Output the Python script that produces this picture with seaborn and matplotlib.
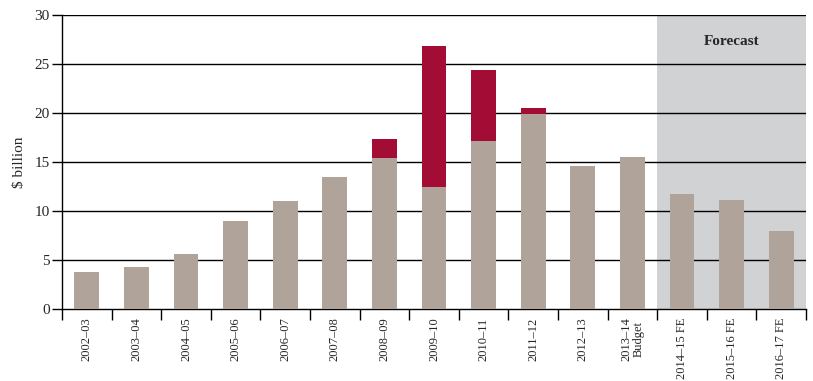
import pandas as pd
import matplotlib
matplotlib.use("Agg")
import matplotlib.pyplot as plt
import seaborn as sns

sns.set_theme(style="white")
plt.rcParams["font.family"] = ["Liberation Serif", "DejaVu Serif"]

YEARS = ["2002–03", "2003–04", "2004–05", "2005–06", "2006–07", "2007–08",
         "2008–09", "2009–10", "2010–11", "2011–12", "2012–13",
         "2013–14\nBudget", "2014–15 FE", "2015–16 FE", "2016–17 FE"]
BASE = [3.8, 4.3, 5.6, 9.0, 11.0, 13.5, 15.4, 12.4, 17.1, 19.9, 14.6, 15.5, 11.7, 11.1, 8.0]
EXTRA = [0, 0, 0, 0, 0, 0, 1.95, 14.4, 7.3, 0.6, 0, 0, 0, 0, 0]
FORECAST_START = 12

GREY = "#afa39a"
RED = "#a20c35"
SHADE = "#d1d2d4"

df = pd.DataFrame({"year": YEARS, "base": BASE, "extra": EXTRA})
df["total"] = df["base"] + df["extra"]

fig, ax = plt.subplots(figsize=(8.13, 3.81), dpi=100)
fig.subplots_adjust(left=0.0763, right=0.9914, bottom=0.189, top=0.9606)

ax.axvspan(FORECAST_START - 0.5, len(YEARS) - 0.5, color=SHADE, zorder=0, lw=0)
for v in range(5, 31, 5):
    ax.axhline(v, color="black", lw=1, zorder=1)

bar_kw = dict(width=0.5, saturation=1, edgecolor="none", linewidth=0, ax=ax)
sns.barplot(data=df, x="year", y="total", color=RED, zorder=2, **bar_kw)
sns.barplot(data=df, x="year", y="base", color=GREY, zorder=3, **bar_kw)

ax.set_xlim(-0.5, len(YEARS) - 0.5)
ax.set_ylim(0, 30)
ax.set_yticks(range(0, 31, 5))
ax.set_xlabel("")
ax.set_ylabel("$ billion", fontsize=11, labelpad=6)
ax.tick_params(axis="y", direction="out", length=7, width=1, color="black", labelsize=11, left=True, pad=2)
ax.set_xticks(range(len(YEARS)))
ax.set_xticklabels(YEARS, rotation=90, fontsize=9, va="top", ha="center", linespacing=0.95)
ax.tick_params(axis="x", which="major", length=0, pad=6)
ax.set_xticks([i - 0.5 for i in range(len(YEARS) + 1)], minor=True)
ax.tick_params(axis="x", which="minor", direction="out", length=8, width=1, color="black", bottom=True)

for side in ["top", "right"]:
    ax.spines[side].set_visible(False)
for side in ["left", "bottom"]:
    ax.spines[side].set_color("black")
    ax.spines[side].set_linewidth(1)

ax.text(13, 27.3, "Forecast", ha="center", va="center", fontsize=11, fontweight="bold")

fig.savefig("out.png", dpi=100)
